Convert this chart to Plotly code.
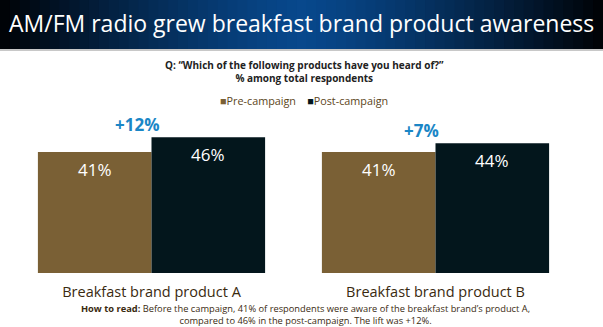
import plotly.graph_objects as go

categories = ["Breakfast brand product A", "Breakfast brand product B"]
pre_values = [41, 41]
post_values = [46, 44]
lift_labels = ["+12%", "+7%"]
series_names = ["Pre-campaign", "Post-campaign"]

PRE_COLOR = "#7a6035"
POST_COLOR = "#03161c"
W, H = 603, 327
FONT = "Open Sans"

fig = go.Figure()
fig.add_bar(x=categories, y=pre_values, name=series_names[0], marker_color=PRE_COLOR,
            marker_line_width=0, showlegend=False)
fig.add_bar(x=categories, y=post_values, name=series_names[1], marker_color=POST_COLOR,
            marker_line_width=0, showlegend=False)

annotations = []
for i in range(len(categories)):
    for off, vals in ((-0.2, pre_values), (0.2, post_values)):
        annotations.append(dict(x=i + off, y=vals[i], xref="x", yref="y", text=f"{vals[i]}%",
                                showarrow=False, yshift=-17, yanchor="middle",
                                font=dict(family=FONT, size=17, color="white")))
    annotations.append(dict(x=i - 0.05, y=post_values[i], xref="x", yref="y", text=f"<b>{lift_labels[i]}</b>",
                            showarrow=False, yshift=13, yanchor="middle",
                            font=dict(family=FONT, size=17, color="#1a86c6")))

annotations.append(dict(x=0.5, y=1 - 23 / H, xref="paper", yref="paper",
                        text="AM/FM radio grew breakfast brand product awareness",
                        showarrow=False, yanchor="middle", font=dict(family=FONT, size=23, color="white")))
annotations.append(dict(x=304 / W, y=1 - 71 / H, xref="paper", yref="paper",
                        text="<b>Q: “Which of the following products have you heard of?”<br>% among total respondents</b>",
                        showarrow=False, yanchor="middle", font=dict(family=FONT, size=10, color="#222222")))
annotations.append(dict(x=304 / W, y=1 - 100 / H, xref="paper", yref="paper",
                        text=f"<span style='color:{PRE_COLOR}'>■</span>{series_names[0]}    "
                             f"<span style='color:{POST_COLOR}'>■</span>{series_names[1]}",
                        showarrow=False, yanchor="middle", font=dict(family=FONT, size=10.8, color="#5c4520")))
annotations.append(dict(x=305 / W, y=1 - 314.5 / H, xref="paper", yref="paper",
                        text="<b>How to read:</b> Before the campaign, 41% of respondents were aware of the breakfast brand’s product A,<br>"
                             "compared to 46% in the post-campaign. The lift was +12%.",
                        showarrow=False, yanchor="middle", font=dict(family=FONT, size=9.3, color="#3a2a10")))

shapes = []
n = 61
for k in range(n):
    t = abs((k + 0.5) / n - 0.5) * 2
    f = max(0.0, 1 - t ** 1.3)
    r = int(0 + 8 * f)
    g = int(2 + 70 * f)
    b = int(5 + 135 * f)
    shapes.append(dict(type="rect", xref="paper", yref="paper", x0=k / n, x1=(k + 1) / n + 0.002,
                       y0=1 - 49 / H, y1=1, fillcolor=f"rgb({r},{g},{b})", line_width=0, layer="below"))
shapes.append(dict(type="rect", xref="paper", yref="paper", x0=0, x1=1, y0=1 - 51 / H, y1=1 - 49 / H,
                   fillcolor="#c8c8c8", line_width=0, layer="below"))

fig.update_layout(
    width=W, height=H,
    margin=dict(l=0, r=0, t=0, b=0),
    paper_bgcolor="white", plot_bgcolor="rgba(0,0,0,0)",
    barmode="group", bargap=0.2, bargroupgap=0,
    annotations=annotations, shapes=shapes,
    xaxis=dict(domain=[9.5 / W, 577.5 / W], showgrid=False, zeroline=False, showline=False,
               tickfont=dict(family=FONT, size=14.5, color="#3a2a10"), ticklabelstandoff=8),
    yaxis=dict(domain=[54 / H, 1 - 125.5 / H], range=[0, 50], visible=False, showgrid=False),
    font=dict(family=FONT),
)

fig.write_html("out.html")
